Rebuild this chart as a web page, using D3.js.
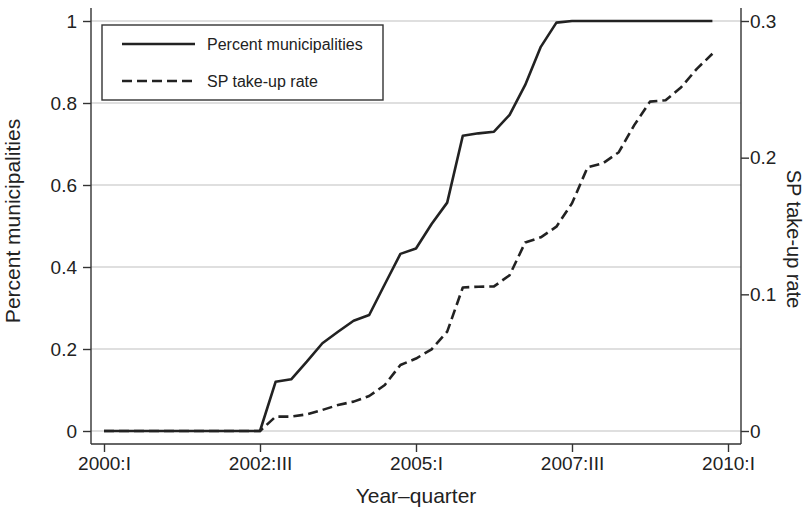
<!DOCTYPE html>
<html>
<head>
<meta charset="utf-8">
<script src="https://cdn.jsdelivr.net/npm/d3@7"></script>
<style>
  html, body { margin: 0; padding: 0; background: #fff; }
  svg text { font-family: "Liberation Sans", Arial, Helvetica, sans-serif; fill: #222; }
</style>
</head>
<body>
<svg id="chart" width="808" height="510"></svg>
<script>
// ---- data (quarters 2000:I .. 2009:IV, index 0..39) ----
const quarterIndex = d3.range(0, 40);
const percentMunicipalities = [
  0, 0, 0, 0, 0, 0, 0, 0, 0, 0, 0,
  0.12, 0.126, 0.169, 0.214, 0.242, 0.269, 0.283, 0.358, 0.432, 0.445,
  0.505, 0.557, 0.72, 0.726, 0.73, 0.771, 0.844, 0.937, 0.996,
  1, 1, 1, 1, 1, 1, 1, 1, 1, 1
];
const spTakeUpRate = [
  0, 0, 0, 0, 0, 0, 0, 0, 0, 0, 0,
  0.0105, 0.0105, 0.0122, 0.0154, 0.019, 0.0215, 0.0256, 0.0337, 0.0483, 0.053,
  0.0598, 0.0727, 0.105, 0.1056, 0.1058, 0.114, 0.138, 0.1417, 0.1495,
  0.1666, 0.193, 0.196, 0.204, 0.224, 0.241, 0.242, 0.2515, 0.265, 0.276
];
const xTickIndex = [0, 10, 20, 30, 40];
const xTickLabels = ["2000:I", "2002:III", "2005:I", "2007:III", "2010:I"];
const leftTicks = [0, 0.2, 0.4, 0.6, 0.8, 1];
const leftTickLabels = ["0", "0.2", "0.4", "0.6", "0.8", "1"];
const rightTicks = [0, 0.1, 0.2, 0.3];
const rightTickLabels = ["0", "0.1", "0.2", "0.3"];
const seriesNames = ["Percent municipalities", "SP take-up rate"];

// ---- layout ----
const svg = d3.select("#chart");
const plot = { left: 91, right: 741, top: 8, bottom: 444 };
const ink = "#222";
const axisColor = "#333";

const x = d3.scaleLinear().domain([0, 40]).range([104, 728]);
const yL = d3.scaleLinear().domain([0, 1]).range([431, 21]);
const yR = d3.scaleLinear().domain([0, 0.3]).range([431, 21]);

// grid lines
svg.append("g").selectAll("line").data(leftTicks).join("line")
  .attr("x1", plot.left).attr("x2", plot.right)
  .attr("y1", d => yL(d)).attr("y2", d => yL(d))
  .attr("stroke", "#d4d4d4").attr("stroke-width", 1.4);

// axis lines
svg.append("line").attr("x1", plot.left).attr("x2", plot.left)
  .attr("y1", plot.top).attr("y2", plot.bottom).attr("stroke", axisColor).attr("stroke-width", 1.4);
svg.append("line").attr("x1", plot.right).attr("x2", plot.right)
  .attr("y1", plot.top).attr("y2", plot.bottom).attr("stroke", axisColor).attr("stroke-width", 1.4);
svg.append("line").attr("x1", plot.left).attr("x2", plot.right)
  .attr("y1", plot.bottom).attr("y2", plot.bottom).attr("stroke", axisColor).attr("stroke-width", 1.4);

// left axis
const leftAxis = d3.axisLeft(yL).tickValues(leftTicks)
  .tickFormat((d, i) => leftTickLabels[i]).tickSize(8).tickPadding(6);
const gL = svg.append("g").attr("transform", `translate(${plot.left},0)`).call(leftAxis);
gL.select(".domain").remove();

// right axis
const rightAxis = d3.axisRight(yR).tickValues(rightTicks)
  .tickFormat((d, i) => rightTickLabels[i]).tickSize(8).tickPadding(1);
const gR = svg.append("g").attr("transform", `translate(${plot.right},0)`).call(rightAxis);
gR.select(".domain").remove();

// bottom axis
const bottomAxis = d3.axisBottom(x).tickValues(xTickIndex)
  .tickFormat((d, i) => xTickLabels[i]).tickSize(8).tickPadding(5);
const gB = svg.append("g").attr("transform", `translate(0,${plot.bottom})`).call(bottomAxis);
gB.select(".domain").remove();

[gL, gR, gB].forEach(g => {
  g.selectAll(".tick line").attr("stroke", axisColor).attr("stroke-width", 1.4);
  g.selectAll(".tick text").attr("font-size", 19).attr("fill", ink)
    .style("font-family", '"Liberation Sans", Arial, sans-serif');
});

// axis titles
svg.append("text").attr("transform", `translate(20,${221}) rotate(-90)`)
  .attr("text-anchor", "middle").attr("font-size", 21).text("Percent municipalities");
svg.append("text").attr("transform", `translate(787,${239}) rotate(90)`)
  .attr("text-anchor", "middle").attr("font-size", 20).text("SP take-up rate");
svg.append("text").attr("x", (plot.left + plot.right) / 2).attr("y", 503)
  .attr("text-anchor", "middle").attr("font-size", 21).text("Year\u2013quarter");

// lines
const lineL = d3.line().x((d, i) => x(quarterIndex[i])).y(d => yL(d));
const lineR = d3.line().x((d, i) => x(quarterIndex[i])).y(d => yR(d));
svg.append("path").datum(spTakeUpRate).attr("d", lineR)
  .attr("fill", "none").attr("stroke", ink).attr("stroke-width", 2.6)
  .attr("stroke-dasharray", "10,5").attr("stroke-linejoin", "round");
svg.append("path").datum(percentMunicipalities).attr("d", lineL)
  .attr("fill", "none").attr("stroke", ink).attr("stroke-width", 2.6)
  .attr("stroke-linejoin", "round");

// legend
const lg = svg.append("g");
lg.append("rect").attr("x", 102).attr("y", 25).attr("width", 281).attr("height", 75)
  .attr("fill", "#fff").attr("stroke", axisColor).attr("stroke-width", 1.4);
const legendRows = [
  { name: seriesNames[0], dash: null, y: 44 },
  { name: seriesNames[1], dash: "10,5", y: 81 }
];
legendRows.forEach(r => {
  lg.append("line").attr("x1", 122).attr("x2", 195).attr("y1", r.y).attr("y2", r.y)
    .attr("stroke", ink).attr("stroke-width", 2.6)
    .attr("stroke-dasharray", r.dash);
  lg.append("text").attr("x", 207).attr("y", r.y).attr("dy", "0.35em")
    .attr("font-size", 16).text(r.name);
});
</script>
</body>
</html>
